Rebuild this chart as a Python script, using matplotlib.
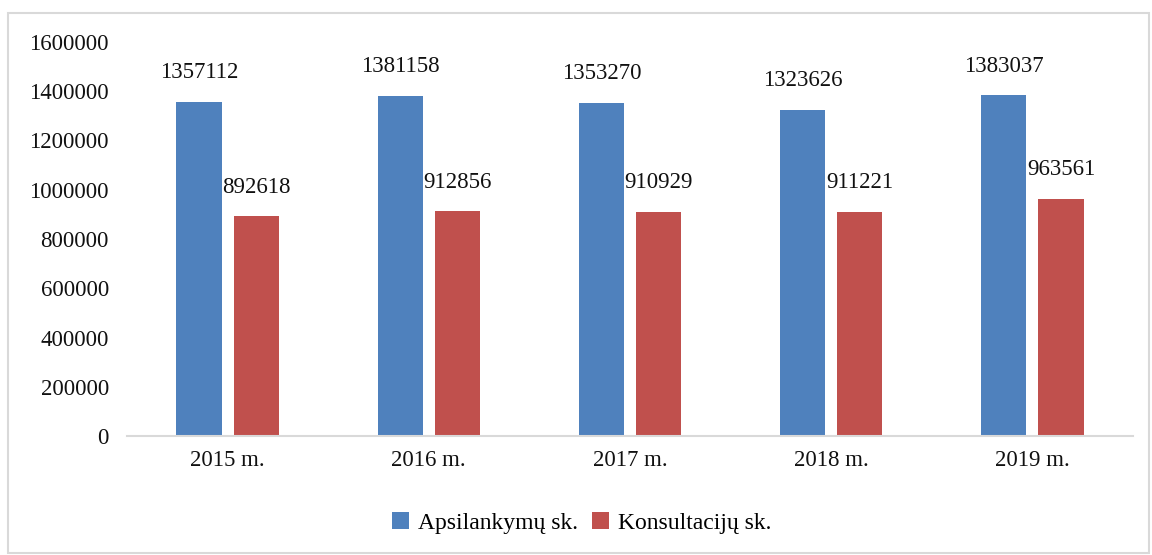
import matplotlib.pyplot as plt
import numpy as np
from matplotlib.patches import Rectangle

YEARS = ["2015 m.", "2016 m.", "2017 m.", "2018 m.", "2019 m."]
VISITS = [1357112, 1381158, 1353270, 1323626, 1383037]
CONSULTATIONS = [892618, 912856, 910929, 911221, 963561]
SERIES_NAMES = ["Apsilankymų sk.", "Konsultacijų sk."]
Y_TICKS = [0, 200000, 400000, 600000, 800000, 1000000, 1200000, 1400000, 1600000]

BLUE = "#4F81BD"
RED = "#C0504D"


def main():
    plt.rcParams["font.family"] = ["Liberation Serif", "DejaVu Serif"]

    fig = plt.figure(figsize=(11.52, 5.55), dpi=100)
    ax = fig.add_axes([127 / 1152, 119 / 555, 1006 / 1152, 394 / 555])

    x = np.arange(len(YEARS))
    width = 0.224
    offset = 0.142
    groups = [(VISITS, BLUE), (CONSULTATIONS, RED)]
    for i, (vals, color) in enumerate(groups):
        pos = x + (-offset if i == 0 else offset)
        ax.bar(pos, vals, width=width, color=color, label=SERIES_NAMES[i])
        for px, v in zip(pos, vals):
            ax.annotate(str(v), (px, v), xytext=(0, 21), textcoords="offset points",
                        ha="center", va="center", fontsize=16.5, color="#111111")

    ax.set_xlim(-0.5, len(YEARS) - 0.5)
    ax.set_ylim(0, 1600000)
    ax.set_yticks(Y_TICKS)
    ax.set_yticklabels([str(t) for t in Y_TICKS])
    ax.set_xticks(x)
    ax.set_xticklabels(YEARS)
    ax.tick_params(axis="both", length=0, labelsize=16.5, colors="#111111")
    ax.tick_params(axis="y", pad=13)
    ax.tick_params(axis="x", pad=10)
    for side in ["top", "right", "left"]:
        ax.spines[side].set_visible(False)
    ax.spines["bottom"].set_color("#D9D9D9")
    ax.spines["bottom"].set_linewidth(1.5)

    ax.legend(loc="center", bbox_to_anchor=(582 / 1152, 1 - 523 / 555),
              bbox_transform=fig.transFigure, ncol=2, frameon=False,
              fontsize=17, handlelength=0.7, handleheight=0.7,
              handletextpad=0.4, columnspacing=0.6)

    fig.patches.append(Rectangle((8 / 1152, 2 / 555), 1141 / 1152, 540 / 555,
                                 transform=fig.transFigure, fill=False,
                                 edgecolor="#D9D9D9", linewidth=1.5))

    fig.savefig("out.png", dpi=100)
    plt.close(fig)


if __name__ == "__main__":
    main()
